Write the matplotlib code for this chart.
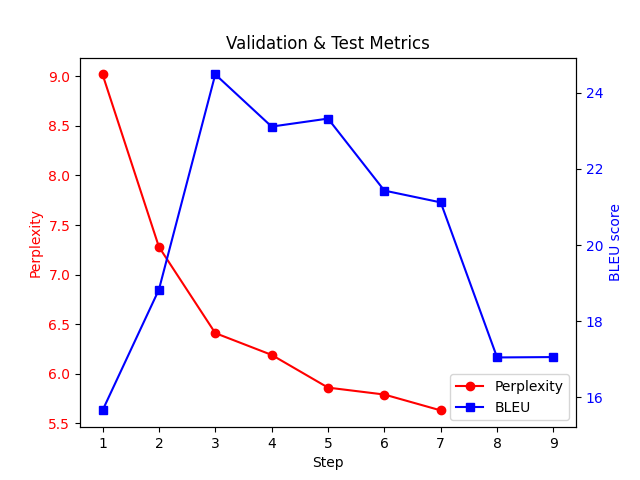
import matplotlib
matplotlib.use("Agg")
import matplotlib.pyplot as plt

steps_ppl = [1, 2, 3, 4, 5, 6, 7]
perplexity = [9.02, 7.28, 6.41, 6.19, 5.86, 5.79, 5.63]

steps_bleu = [1, 2, 3, 4, 5, 6, 7, 8, 9]
bleu = [15.66, 18.83, 24.48, 23.11, 23.32, 21.43, 21.12, 17.05, 17.06]

fig, ax1 = plt.subplots(figsize=(6.4, 4.8), dpi=100)

l1, = ax1.plot(steps_ppl, perplexity, color='red', marker='o', label='Perplexity')
ax1.set_xlabel('Step')
ax1.set_ylabel('Perplexity', color='red')
ax1.tick_params(axis='y', labelcolor='red')

ax2 = ax1.twinx()
l2, = ax2.plot(steps_bleu, bleu, color='blue', marker='s', label='BLEU')
ax2.set_ylabel('BLEU score', color='blue')
ax2.tick_params(axis='y', labelcolor='blue')

ax1.legend([l1, l2], ['Perplexity', 'BLEU'], loc='lower right')
plt.title('Validation & Test Metrics')
plt.savefig('out.png')
